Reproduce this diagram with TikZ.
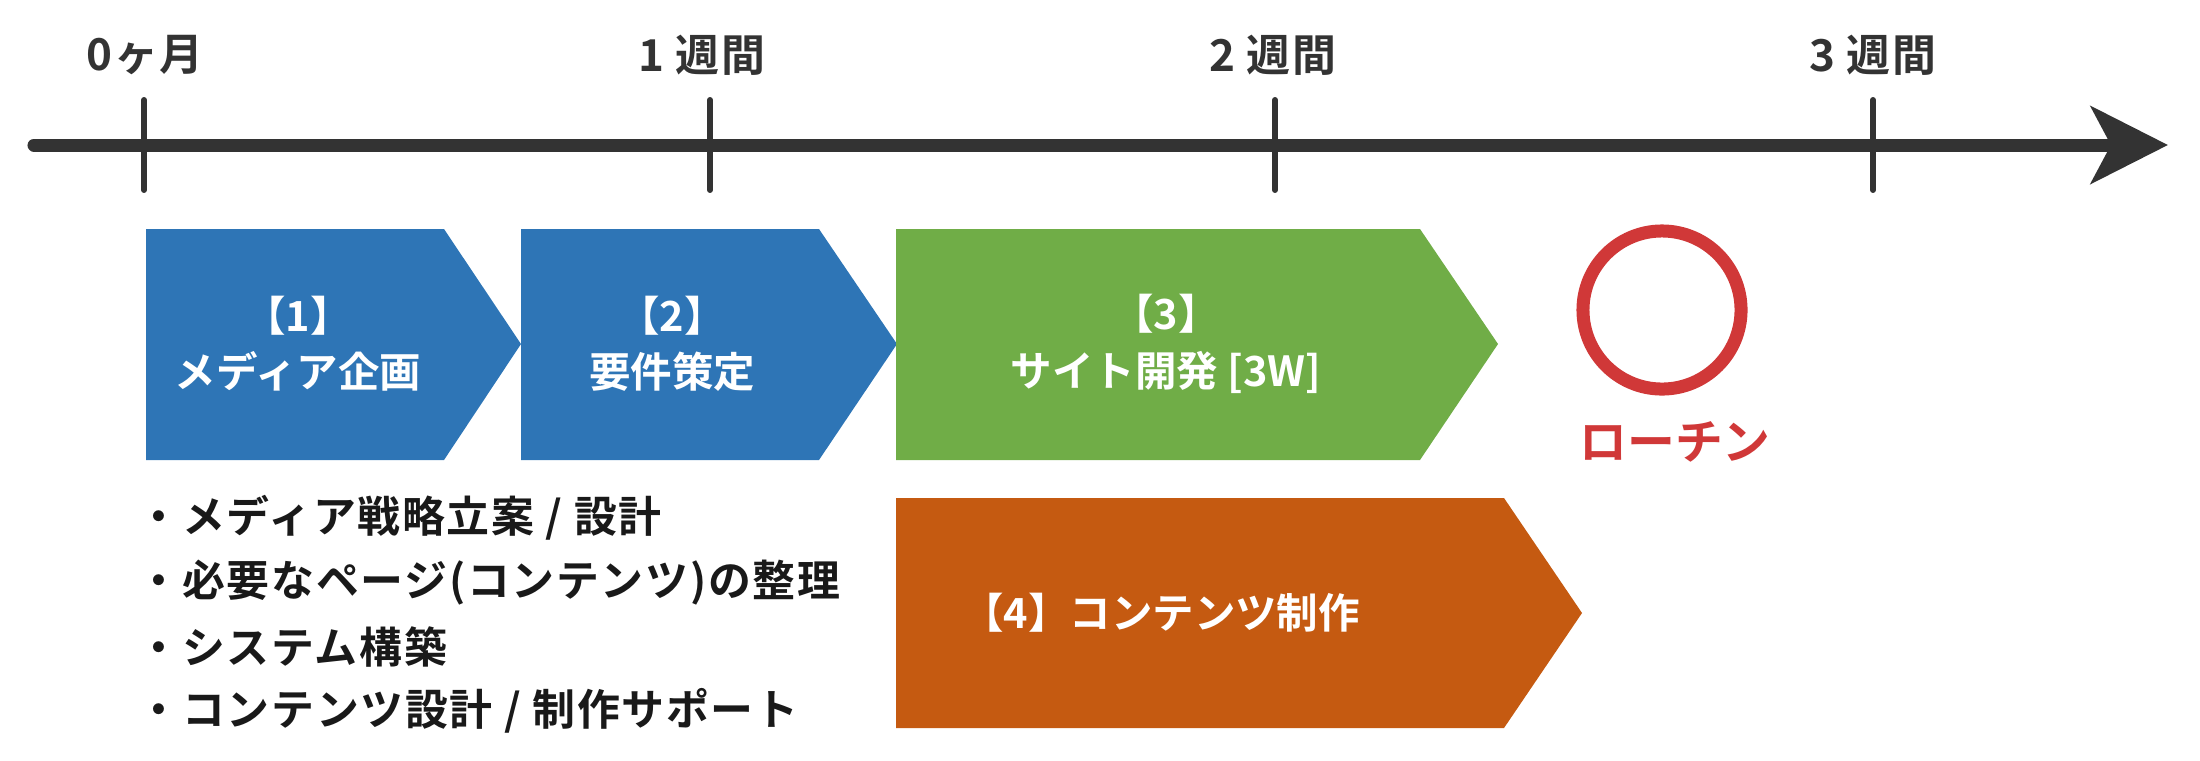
\documentclass[tikz,border=0pt]{standalone}
\usepackage{fontspec}
\setmainfont{Noto Sans CJK JP}[BoldFont={Noto Sans CJK JP Bold}]
\usetikzlibrary{arrows.meta}
\definecolor{axisgray}{HTML}{333333}
\definecolor{phaseblue}{HTML}{2E75B6}
\definecolor{phasegreen}{HTML}{70AD47}
\definecolor{phaseorange}{HTML}{C55A11}
\definecolor{launchred}{HTML}{D03838}

\begin{document}
\begin{tikzpicture}[x=0.01cm, y=-0.01cm,
  axisline/.style={draw=axisgray, line width=3.7pt, line cap=round, -{Stealth[length=0.77cm, width=0.77cm, inset=0.2cm]}},
  tickline/.style={draw=axisgray, line width=1.7pt, line cap=round},
  weeknode/.style={text=axisgray, font=\bfseries\fontsize{12.5}{15}\selectfont\addfontfeatures{LetterSpace=3}},
  phasenode/.style={text=white, align=center, font=\bfseries\fontsize{11.8}{16}\selectfont},
  listnode/.style={anchor=west, inner sep=0pt, text=black!90, font=\bfseries\fontsize{12.2}{15}\selectfont\addfontfeatures{LetterSpace=4}},
  ringnode/.style={circle, draw=launchred, line width=3.7pt, minimum size=1.58cm, inner sep=0pt},
  launchnode/.style={text=launchred, font=\bfseries\fontsize{13.6}{16}\selectfont},
  ]
\useasboundingbox (0,0) rectangle (2200,760);

% time axis
\coordinate (start) at (34,145);
\coordinate (end) at (2168,145);
\draw[axisline] (start) -- (end);

\draw[tickline] (144,100) -- (144,190);
\draw[tickline] (710,100) -- (710,190);
\draw[tickline] (1275,100) -- (1275,190);
\draw[tickline] (1873,100) -- (1873,190);

\node[weeknode] (w0) at (145,55) {0ヶ月};
\node[weeknode] (w1) at (702,55) {1 週間};
\node[weeknode] (w2) at (1273,55) {2 週間};
\node[weeknode] (w3) at (1873,55) {3 週間};

% phases
\fill[phaseblue] (146,229) -- (444,229) -- (521,344) -- (444,460) -- (146,460) -- cycle;
\fill[phaseblue] (521,229) -- (819,229) -- (897,344) -- (819,460) -- (521,460) -- cycle;
\fill[phasegreen] (896,229) -- (1420,229) -- (1498,344) -- (1420,460) -- (896,460) -- cycle;
\fill[phaseorange] (896,498) -- (1504,498) -- (1582,613) -- (1504,728) -- (896,728) -- cycle;

\node[phasenode] (p1) at (298,344) {【1】\\メディア企画};
\node[phasenode] (p2) at (672,344) {【2】\\要件策定};
\node[phasenode] (p3) at (1166,344) {【3】\\サイト開発 [3W]};
\node[phasenode] (p4) at (1161,613) {【4】コンテンツ制作};

% launch
\node[ringnode] (ring) at (1662,310) {};
\node[launchnode] (launch) at (1675,442) {ローチン};

% tasks
\node[listnode] (l1) at (137,518) {・メディア戦略立案 / 設計};
\node[listnode] (l2) at (137,583) {・必要なページ(コンテンツ)の整理};
\node[listnode] (l3) at (137,647) {・システム構築};
\node[listnode] (l4) at (137,711) {・コンテンツ設計 / 制作サポート};

\end{tikzpicture}
\end{document}
